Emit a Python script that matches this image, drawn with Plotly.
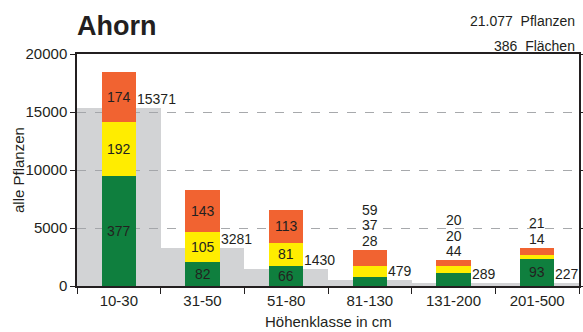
import plotly.graph_objects as go
import numpy as np

categories = ["10-30", "31-50", "51-80", "81-130", "131-200", "201-500"]
total_plants = [15371, 3281, 1430, 479, 289, 227]
green_vals = [9480, 2040, 1720, 780, 1100, 2330]
yellow_vals = [4660, 2640, 2010, 950, 650, 340]
orange_vals = [4330, 3570, 2820, 1400, 470, 630]
green_labels = [377, 82, 66, 28, 44, 93]
yellow_labels = [192, 105, 81, 37, 20, 14]
orange_labels = [174, 143, 113, 59, 20, 21]
y_ticks = [0, 5000, 10000, 15000, 20000]
chart_title = "Ahorn"
summary_lines = ["21.077\u00a0 Pflanzen", "386\u00a0 Flächen"]
y_title = "alle Pflanzen"
x_title = "Höhenklasse in cm"

FONT = "Liberation Sans, Arial, sans-serif"
TXT = "#231f20"
GRAY = "rgba(160,163,167,0.48)"
GREEN = "#0f7f3e"
YELLOW = "#ffed00"
ORANGE = "#f16331"
BW = 0.41
LS = 14  # label font size

g = np.array(green_vals)
ye = np.array(yellow_vals)
o = np.array(orange_vals)

fig = go.Figure()
fig.add_trace(go.Bar(x=categories, y=total_plants, width=1.0, marker_color=GRAY,
                     marker_line_width=0, hoverinfo="skip"))
fig.add_trace(go.Bar(x=categories, y=g, base=0, width=BW, marker_color=GREEN,
                     marker_line_width=0))
fig.add_trace(go.Bar(x=categories, y=ye, base=g, width=BW, marker_color=YELLOW,
                     marker_line_width=0))
fig.add_trace(go.Bar(x=categories, y=o, base=g + ye, width=BW, marker_color=ORANGE,
                     marker_line_width=0))

ann = []
for i in range(len(categories)):
    segs = [(g[i], 0, green_labels[i]), (ye[i], g[i], yellow_labels[i]),
            (o[i], g[i] + ye[i], orange_labels[i])]
    top = g[i] + ye[i] + o[i]
    k = 0
    for val, base, lab in segs:
        if val >= 1500:
            ann.append(dict(x=i, y=base + val / 2, text=str(lab), showarrow=False,
                            xanchor="center", yanchor="middle", borderpad=0,
                            font=dict(family=FONT, size=LS, color=TXT)))
        else:
            ann.append(dict(x=i, y=top, text=str(lab), showarrow=False,
                            xanchor="center", yanchor="middle", borderpad=0,
                            yshift=9 + 15.5 * k,
                            font=dict(family=FONT, size=LS, color=TXT)))
            k += 1
    ann.append(dict(x=i + BW / 2, y=total_plants[i], text=str(total_plants[i]),
                    showarrow=False, xanchor="left", yanchor="bottom", yshift=0,
                    xshift=0, borderpad=0, font=dict(family=FONT, size=LS, color=TXT)))

ann.append(dict(xref="paper", yref="paper", x=0, y=1.122, xshift=-2,
                text="<b>" + chart_title + "</b>",
                showarrow=False, xanchor="left", yanchor="middle",
                font=dict(family=FONT, size=27, color=TXT)))
ann.append(dict(xref="paper", yref="paper", x=0.996, y=1.142, text=summary_lines[0],
                showarrow=False, xanchor="right", yanchor="middle",
                font=dict(family=FONT, size=14, color=TXT)))
ann.append(dict(xref="paper", yref="paper", x=0.996, y=1.034, text=summary_lines[1],
                showarrow=False, xanchor="right", yanchor="middle",
                font=dict(family=FONT, size=14, color=TXT)))
ann.append(dict(xref="paper", yref="paper", x=-0.1175, y=0.5, text=y_title, textangle=-90,
                showarrow=False, xanchor="center", yanchor="middle",
                font=dict(family=FONT, size=15, color=TXT)))
ann.append(dict(xref="paper", yref="paper", x=0.5, y=-0.155, text=x_title,
                showarrow=False, xanchor="center", yanchor="middle",
                font=dict(family=FONT, size=15, color=TXT)))

fig.update_layout(
    width=583, height=332,
    margin=dict(l=77, r=4, t=54, b=46, autoexpand=False),
    paper_bgcolor="white", plot_bgcolor="white",
    barmode="overlay", bargap=0,
    showlegend=False,
    font=dict(family=FONT, size=15, color=TXT),
    annotations=ann,
    xaxis=dict(type="category", tickson="boundaries", ticks="outside", ticklen=6,
               tickcolor="#231f20", showline=True, linecolor="#231f20", linewidth=1.5,
               mirror=True, showgrid=False, range=[-0.5, 5.5], automargin=False,
               tickfont=dict(family=FONT, size=15, color=TXT)),
    yaxis=dict(range=[0, 20000], tickvals=y_ticks, ticktext=[str(v) for v in y_ticks],
               ticks="outside", ticklen=5,
               tickcolor="#231f20", showline=True, linecolor="#231f20", linewidth=1.5,
               mirror="ticks", showgrid=True, gridcolor="#a7a9ac", griddash="dash",
               gridwidth=1, zeroline=False, automargin=False,
               tickfont=dict(family=FONT, size=15, color=TXT)),
)

fig.write_html("out.html", config={"displayModeBar": False},
               post_script="document.body.style.margin='0';document.body.style.padding='0';")
